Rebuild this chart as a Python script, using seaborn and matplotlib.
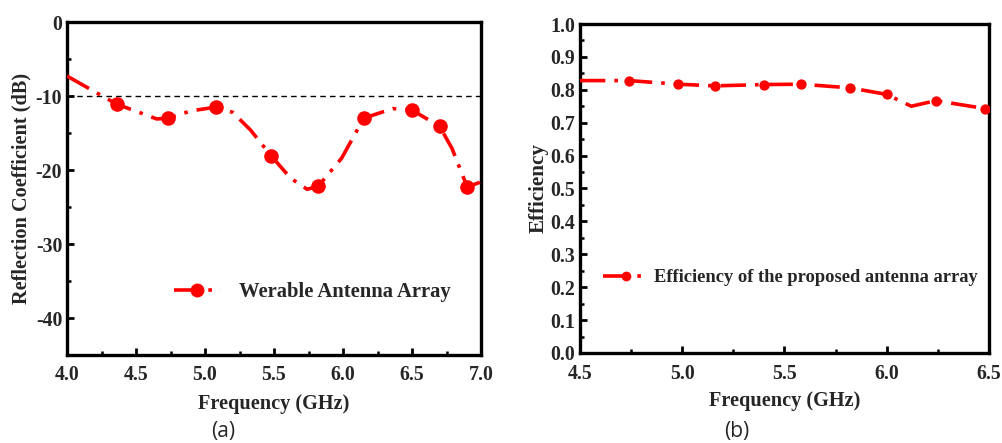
import matplotlib
matplotlib.use("Agg")
import matplotlib.pyplot as plt
from matplotlib.lines import Line2D
from matplotlib.ticker import MultipleLocator
import seaborn as sns
import pandas as pd

# ---- data ----
freq_a_curve = [4.00, 4.18, 4.36, 4.55, 4.65, 4.73, 4.90, 5.08, 5.20, 5.33, 5.48,
                5.62, 5.74, 5.82, 5.99, 6.15, 6.36, 6.50, 6.70, 6.79, 6.90, 7.00]
s11_curve = [-7.3, -9.2, -11.1, -12.4, -13.1, -13.0, -12.0, -11.5, -12.2, -14.6, -18.1,
             -21.1, -22.6, -22.2, -18.4, -13.0, -11.7, -11.9, -14.1, -17.1, -22.3, -21.6]
freq_a_marks = [4.36, 4.73, 5.08, 5.48, 5.82, 6.15, 6.50, 6.70, 6.90]
s11_marks = [-11.1, -13.0, -11.5, -18.1, -22.2, -13.0, -11.9, -14.1, -22.3]
threshold_db = -10

freq_b_curve = [4.50, 4.74, 4.98, 5.16, 5.40, 5.58, 5.82, 6.00, 6.12, 6.24, 6.48]
eff_curve = [0.828, 0.828, 0.817, 0.812, 0.816, 0.817, 0.806, 0.786, 0.750, 0.767, 0.743]
freq_b_marks = [4.74, 4.98, 5.16, 5.40, 5.58, 5.82, 6.00, 6.24, 6.48]
eff_marks = [0.828, 0.817, 0.812, 0.816, 0.817, 0.806, 0.786, 0.767, 0.743]

xticks_a = [4.0, 4.5, 5.0, 5.5, 6.0, 6.5, 7.0]
yticks_a = [0, -10, -20, -30, -40]
xticks_b = [4.5, 5.0, 5.5, 6.0, 6.5]
yticks_b = [0.0, 0.1, 0.2, 0.3, 0.4, 0.5, 0.6, 0.7, 0.8, 0.9, 1.0]

label_a = "Werable Antenna Array"
label_b = "Efficiency of the proposed antenna array"

sns.set_theme(style="white")
plt.rcParams['font.family'] = ['Liberation Serif', 'DejaVu Serif']
plt.rcParams['font.weight'] = 'bold'

RED = "#ff0000"
DASH = (7, 2.5, 1, 2.5)

fig = plt.figure(figsize=(10.03, 4.43), dpi=100)
axa = fig.add_axes([0.0668, 0.1986, 0.4128, 0.7517])
axb = fig.add_axes([0.5783, 0.2032, 0.4077, 0.7426])

df_a = pd.DataFrame({"f": freq_a_curve, "v": s11_curve})
df_am = pd.DataFrame({"f": freq_a_marks, "v": s11_marks})
df_b = pd.DataFrame({"f": freq_b_curve, "v": eff_curve})
df_bm = pd.DataFrame({"f": freq_b_marks, "v": eff_marks})

# panel a
axa.axhline(threshold_db, color="black", lw=1.0, ls=(0, (4, 3)), zorder=1)
sns.lineplot(data=df_a, x="f", y="v", ax=axa, color=RED, lw=2.6,
             dashes=False, sort=False, zorder=3)
axa.lines[-1].set_dashes(DASH)
sns.scatterplot(data=df_am, x="f", y="v", ax=axa, color=RED, s=110,
                edgecolor=RED, linewidth=0, zorder=4)
axa.set_xlim(4.0, 7.0)
axa.set_ylim(-45, 0)
axa.set_xticks(xticks_a)
axa.set_yticks(yticks_a)
axa.set_xticklabels([f"{t:.1f}" for t in xticks_a])
axa.set_yticklabels([f"{t:d}" for t in yticks_a])
axa.xaxis.set_minor_locator(MultipleLocator(0.25))
axa.yaxis.set_minor_locator(MultipleLocator(5))
axa.set_xlabel("Frequency (GHz)", fontsize=14.6, fontweight="bold", labelpad=7)
axa.set_ylabel("Reflection Coefficient (dB)", fontsize=14.6, fontweight="bold", labelpad=3)

h_a = Line2D([], [], color=RED, lw=2.6, marker="o", markersize=9,
             dashes=DASH)
axa.legend([h_a], [label_a], loc="center left",
           bbox_to_anchor=(155 / 1003, 1 - 292 / 443),
           bbox_transform=fig.transFigure, frameon=False,
           handlelength=2.3, handletextpad=0.85,
           prop={"size": 14.9, "weight": "bold"})

# panel b
sns.lineplot(data=df_b, x="f", y="v", ax=axb, color=RED, lw=2.6,
             dashes=False, sort=False, zorder=3)
axb.lines[-1].set_dashes(DASH)
sns.scatterplot(data=df_bm, x="f", y="v", ax=axb, color=RED, s=55,
                edgecolor=RED, linewidth=0, zorder=4)
axb.set_xlim(4.5, 6.5)
axb.set_ylim(0, 1.0)
axb.set_xticks(xticks_b)
axb.set_yticks(yticks_b)
axb.set_xticklabels([f"{t:.1f}" for t in xticks_b])
axb.set_yticklabels([f"{t:.1f}" for t in yticks_b])
axb.xaxis.set_minor_locator(MultipleLocator(0.25))
axb.yaxis.set_minor_locator(MultipleLocator(0.05))
axb.set_xlabel("Frequency (GHz)", fontsize=14.6, fontweight="bold", labelpad=5)
axb.set_ylabel("Efficiency", fontsize=15.2, fontweight="bold", labelpad=1)

h_b = Line2D([], [], color=RED, lw=2.6, marker="o", markersize=6,
             dashes=DASH)
axb.legend([h_b], [label_b], loc="center left",
           bbox_to_anchor=(586 / 1003, 1 - 278 / 443),
           bbox_transform=fig.transFigure, frameon=False,
           handlelength=2.5, handletextpad=0.3,
           prop={"size": 13.3, "weight": "bold"})

for ax in (axa, axb):
    for sp in ax.spines.values():
        sp.set_visible(True)
        sp.set_color("black")
        sp.set_linewidth(2.4)
    ax.tick_params(which="major", direction="in", length=5, width=2,
                   labelsize=14.3, color="black", left=True, bottom=True)
    ax.tick_params(which="minor", direction="in", length=3, width=1.8,
                   color="black", left=True, bottom=True)
    for lab in ax.get_xticklabels() + ax.get_yticklabels():
        lab.set_fontweight("bold")
axa.tick_params(axis="x", which="major", pad=7)
axb.tick_params(axis="x", which="major", pad=8)

fig.text(223 / 1003, 1 - 432 / 443, "(a)", ha="center", va="center",
         fontsize=15, family="Open Sans", fontweight="normal")
fig.text(737 / 1003, 1 - 432 / 443, "(b)", ha="center", va="center",
         fontsize=15, family="Open Sans", fontweight="normal")

fig.savefig("out.png", dpi=100)
